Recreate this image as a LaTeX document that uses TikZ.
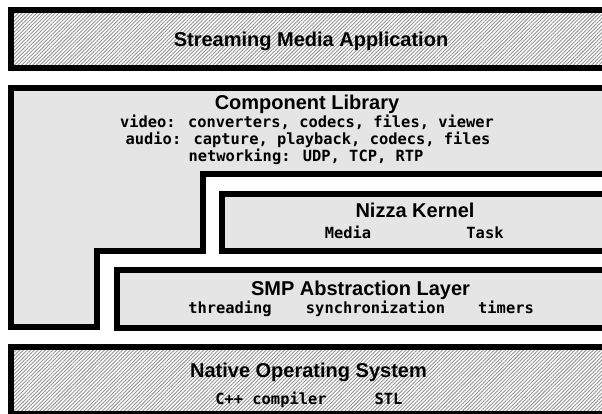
\documentclass[tikz,border=0pt]{standalone}
\usepackage{fontspec}
\setmainfont{Liberation Sans}
\newfontfamily\monofont{DejaVu Sans Mono}
\usetikzlibrary{patterns.meta}
\definecolor{layerfill}{RGB}{229,229,229}
\tikzset{
  layer/.style={draw=black, line width=6pt, fill=layerfill, line join=miter},
  hatched/.style={draw=black, line width=6pt, line join=miter,
    preaction={fill=white},
    pattern={Lines[angle=45, distance=2.6pt, line width=0.9pt]}, pattern color=gray!85},
  title/.style={anchor=base, inner sep=0pt, font=\fontsize{20}{24}\selectfont\bfseries},
  detail/.style={anchor=base, inner sep=0pt, font=\fontsize{15.4}{17}\selectfont\monofont\bfseries},
}
\begin{document}
\begin{tikzpicture}[x=1pt, y=-1pt]
\useasboundingbox (0,0) rectangle (602,414);
\clip (0,0) rectangle (602,414);

% layers (open to the right)
\draw[hatched] (11,10) rectangle (620,68);
\draw[layer] (11,88) -- (620,88) -- (620,174) -- (203,174) -- (203,251)
  -- (97,251) -- (97,327) -- (11,327) -- cycle;
\draw[layer] (222,194) rectangle (620,251);
\draw[layer] (117,270) rectangle (620,328);
\draw[hatched] (11,347) rectangle (620,414);

% application
\node[title] (app) at (311,47) {Streaming Media Application};

% component library
\node[title] (lib) at (307,110) {Component Library};
\node[detail] (libvideo) at (307,128) {video: converters, codecs, files, viewer};
\node[detail] (libaudio) at (308,145) {audio: capture, playback, codecs, files};
\node[detail] (libnet) at (306,162) {networking: UDP, TCP, RTP};

% kernel
\node[title] (kernel) at (415,218) {Nizza Kernel};
\node[detail] (media) at (348,238) {Media};
\node[detail] (task) at (485,238) {Task};

% SMP abstraction layer
\node[title] (smp) at (360.5,295) {SMP Abstraction Layer};
\node[detail] (threading) at (230,313) {threading};
\node[detail] (sync) at (375.5,313) {synchronization};
\node[detail] (timers) at (506,313) {timers};

% operating system
\node[title] (os) at (308.5,377) {Native Operating System};
\node[detail] (compiler) at (271,404) {C++ compiler};
\node[detail] (stl) at (388.5,404) {STL};
\end{tikzpicture}
\end{document}
